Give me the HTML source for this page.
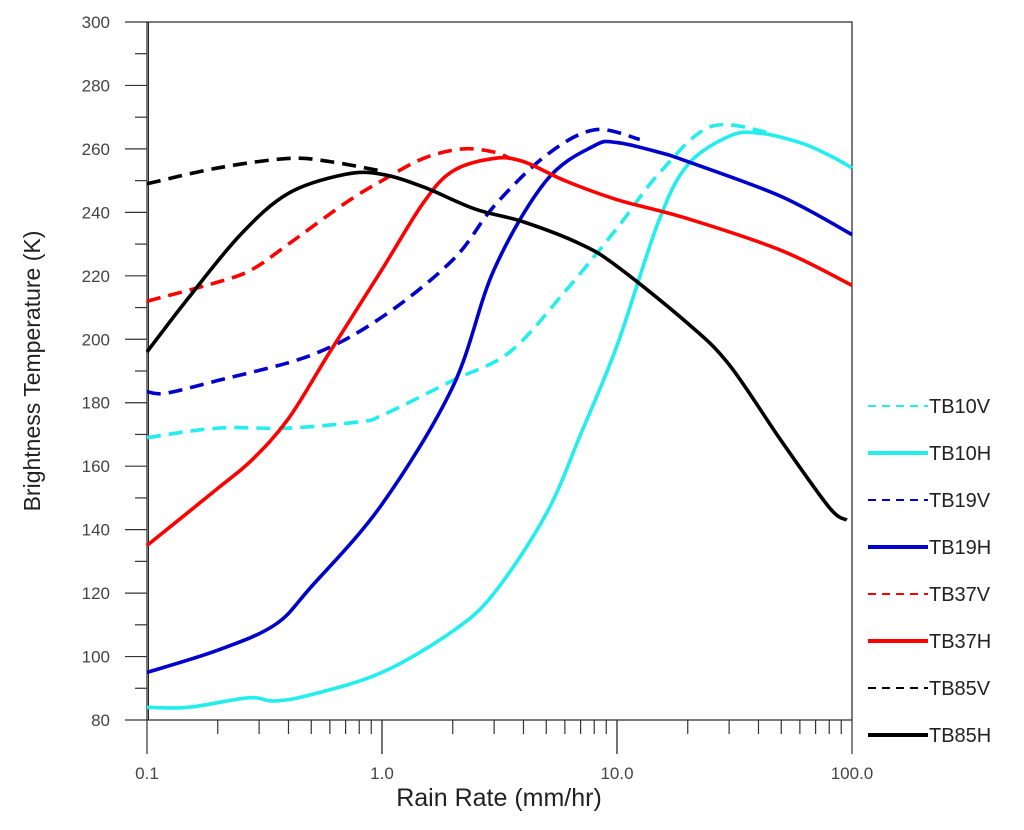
<!DOCTYPE html>
<html><head><meta charset="utf-8"><style>
html,body{margin:0;padding:0;background:#fff;}
svg text{font-family:"Liberation Sans",sans-serif;}
</style></head><body>
<svg id="chart" width="1024" height="825" xmlns="http://www.w3.org/2000/svg">
<g id="axes"></g>
<g id="series"></g>
<g id="legend"></g>
<text x="0" y="0" transform="translate(40,371) rotate(-90)" text-anchor="middle" font-size="23" fill="#222">Brightness Temperature (K)</text>
<text x="499" y="806" text-anchor="middle" font-size="25" fill="#222">Rain Rate (mm/hr)</text>
</svg>
<script>
const yTicks=[80,100,120,140,160,180,200,220,240,260,280,300];
const xTicks=[0.1,1,10,100];
const xTickLabels=["0.1","1.0","10.0","100.0"];
const seriesNames=["TB10V","TB10H","TB19V","TB19H","TB37V","TB37H","TB85V","TB85H"];
const seriesColors=["#22eeee","#22eeee","#0000cc","#0000cc","#ff0000","#ff0000","#000000","#000000"];
const seriesDashed=[true,false,true,false,true,false,true,false];
const tb10vR=[0.1,0.2,0.4,0.8,1,2,3.5,6,10,15,25,45];
const tb10vT=[169,172,172,174,176,187,196,215,235,252,267,265];
const tb10hR=[0.1,0.15,0.27,0.35,0.5,1,2,3,5,7,10,15,20,30,40,60,80,100];
const tb10hT=[84,84,87,86,88,95,108,120,145,170,198,237,255,264,265,262,258,254];
const tb19vR=[0.1,0.12,0.2,0.5,1,2,3,5,8,12.5];
const tb19vT=[183.5,183,187,195,207,225,242,258,266,263];
const tb19hR=[0.1,0.2,0.35,0.5,1,2,3,5,8,10,15,20,50,100];
const tb19hT=[95,102,110,122,148,185,222,250,261,262,259,256,245,233];
const tb37vR=[0.1,0.2,0.28,0.4,0.7,1,1.5,2.2,3,3.5];
const tb37vT=[212,218,222,230,243,250,257,260,259,257];
const tb37hR=[0.1,0.2,0.28,0.4,0.6,1,1.5,2,3,4,6,10,20,50,100];
const tb37hT=[135,153,162,175,196,222,243,253,257,256,250,244,238,228,217];
const tb85vR=[0.1,0.2,0.4,0.6,1];
const tb85vT=[249,254,257,256,253];
const tb85hR=[0.1,0.15,0.25,0.4,0.7,1,1.5,2.5,4,7,10,20,30,50,80,95];
const tb85hT=[196,213,233,246,252,252,248,241,237,230,223,205,192,168,147,143];
const allR=[tb10vR,tb10hR,tb19vR,tb19hR,tb37vR,tb37hR,tb85vR,tb85hR];
const allT=[tb10vT,tb10hT,tb19vT,tb19hT,tb37vT,tb37hT,tb85vT,tb85hT];

const L=147,R=852,T=22,B=720;
const xs=r=>L+(Math.log10(r)+1)/3*(R-L);
const ys=v=>B-(v-80)/220*(B-T);
const NS="http://www.w3.org/2000/svg";
function mk(tag,attrs,parent){const e=document.createElementNS(NS,tag);for(const k in attrs)e.setAttribute(k,attrs[k]);parent.appendChild(e);return e;}
const axes=document.getElementById('axes');
let f=mk('rect',{x:L,y:T,width:R-L,height:B-T,fill:'none',stroke:'#222','stroke-width':1.2},axes);


mk('line',{x1:L+1.5,y1:T,x2:L+1.5,y2:B,stroke:'#222','stroke-width':1},axes);
for(let v=80;v<=300;v+=10){const major=v%20===0;const y=ys(v);
 let t=mk('line',{x1:L-(major?22:12),y1:y,x2:L,y2:y,stroke:'#333','stroke-width':1.2},axes);
 
 }
yTicks.forEach(v=>{let t=mk('text',{x:110,y:ys(v)+6,'text-anchor':'end','font-size':17,fill:'#444'},axes);t.textContent=v;
 
 });
for(let d=-1;d<2;d++){for(let m=1;m<=10;m++){const r=m*Math.pow(10,d);const x=xs(r);const major=m===1||m===10;
 let t=mk('line',{x1:x,y1:B,x2:x,y2:B+(major?34:14),stroke:'#333','stroke-width':1.2},axes);
 
 }}
xTicks.forEach((r,i)=>{let t=mk('text',{x:xs(r),y:779,'text-anchor':'middle','font-size':17,fill:'#444'},axes);t.textContent=xTickLabels[i];
 
 });
function pathD(pts){let d=`M${pts[0][0]},${pts[0][1]}`;for(let i=0;i<pts.length-1;i++){const p0=pts[i-1]||pts[i],p1=pts[i],p2=pts[i+1],p3=pts[i+2]||p2;
 const c1=[p1[0]+(p2[0]-p0[0])/6,p1[1]+(p2[1]-p0[1])/6],c2=[p2[0]-(p3[0]-p1[0])/6,p2[1]-(p3[1]-p1[1])/6];
 d+=` C${c1[0]},${c1[1]} ${c2[0]},${c2[1]} ${p2[0]},${p2[1]}`;}return d;}
const sg=document.getElementById('series');
seriesNames.forEach((n,i)=>{const pts=allR[i].map((r,j)=>[xs(r),ys(allT[i][j])]);
 let p=mk('path',{d:pathD(pts),fill:'none',stroke:seriesColors[i],'stroke-width':3.6,'stroke-linecap':'butt','stroke-dasharray':seriesDashed[i]?'14 8':'none'},sg);
 
 });
const lg=document.getElementById('legend');
seriesNames.forEach((n,i)=>{const y=406+i*47;
 let g=mk('g',{},lg);
 
 
 mk('line',{x1:868,y1:y,x2:928,y2:y,stroke:seriesColors[i],'stroke-width':seriesDashed[i]?2:4,'stroke-dasharray':seriesDashed[i]?'8 6':'none'},g);
 let t=mk('text',{x:929,y:y+7,'font-size':20,fill:'#222'},g);t.textContent=n;});
</script>
</body></html>
